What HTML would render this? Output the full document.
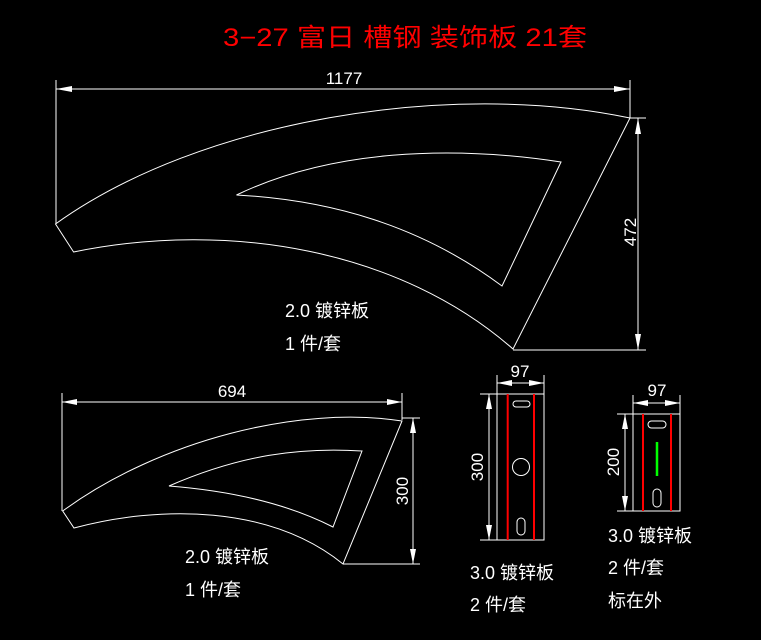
<!DOCTYPE html>
<html><head><meta charset="utf-8"><style>
html,body{margin:0;padding:0;background:#000;}
svg{display:block;}
text{font-family:"Liberation Sans","Noto Sans CJK SC",sans-serif;fill:#fff;}
</style></head><body>
<svg width="761" height="640" viewBox="0 0 761 640" xmlns="http://www.w3.org/2000/svg">
<rect width="761" height="640" fill="#000"/>
<g fill="none" stroke="#fff" stroke-width="1">
<!-- big shape -->
<path d="M55.5,224 C200,120 450,80 630,118 L513,349 C400,250 230,220 73.6,252 Z"/>
<path d="M236.5,195 C330,150 450,145 561,162 L502,286 C420,225 330,200 236.5,195 Z"/>
<!-- dims big -->
<line x1="56" y1="80" x2="56" y2="224"/>
<line x1="630" y1="80" x2="630" y2="118"/>
<line x1="56" y1="89" x2="630" y2="89"/>
<line x1="630" y1="118" x2="646" y2="118"/>
<line x1="513" y1="350" x2="646" y2="350"/>
<line x1="638" y1="118" x2="638" y2="350"/>
<!-- small shape -->
<path d="M62.7,511 C160,440 300,405 402,421 L343,564 C270,505 160,505 74,528 Z"/>
<path d="M169,486 C240,455 300,447 362,451 L333,527 C280,500 220,490 169,486 Z"/>
<line x1="62" y1="393" x2="62" y2="511"/>
<line x1="402" y1="393" x2="402" y2="420"/>
<line x1="62" y1="402" x2="402" y2="402"/>
<line x1="402" y1="418" x2="420" y2="418"/>
<line x1="343" y1="564" x2="420" y2="564"/>
<line x1="413" y1="418" x2="413" y2="564"/>
<!-- rect 1 -->
<rect x="497" y="394" width="47" height="146"/>
<rect x="513" y="401" width="17" height="6" rx="3"/>
<circle cx="521" cy="467" r="8.5"/>
<rect x="517" y="518" width="8" height="17" rx="4"/>
<line x1="497" y1="375" x2="497" y2="394"/>
<line x1="544" y1="375" x2="544" y2="394"/>
<line x1="497" y1="383" x2="544" y2="383"/>
<line x1="480" y1="394" x2="497" y2="394"/>
<line x1="480" y1="540" x2="497" y2="540"/>
<line x1="489" y1="394" x2="489" y2="540"/>
<!-- rect 2 -->
<rect x="633" y="414" width="47" height="97"/>
<rect x="648" y="421" width="18" height="7" rx="3.5"/>
<rect x="653" y="489" width="8" height="18" rx="4"/>
<line x1="633" y1="395" x2="633" y2="414"/>
<line x1="680" y1="395" x2="680" y2="414"/>
<line x1="633" y1="403" x2="680" y2="403"/>
<line x1="617" y1="414" x2="633" y2="414"/>
<line x1="617" y1="511" x2="633" y2="511"/>
<line x1="625" y1="414" x2="625" y2="511"/>
</g>
<g stroke="#f00" stroke-width="2">
<line x1="507.7" y1="394" x2="507.7" y2="540"/>
<line x1="534" y1="394" x2="534" y2="540"/>
<line x1="643" y1="414" x2="643" y2="511"/>
<line x1="671" y1="414" x2="671" y2="511"/>
</g>
<line x1="657" y1="442" x2="657" y2="476" stroke="#0f0" stroke-width="2.5"/>
<g fill="#fff">
<polygon points="56,89 72,86 72,92"/><polygon points="630,89 614,86 614,92"/>
<polygon points="638,118 635,134 641,134"/><polygon points="638,350 635,334 641,334"/>
<polygon points="62,402 77,399 77,405"/><polygon points="402,402 387,399 387,405"/>
<polygon points="413,418 410,433 416,433"/><polygon points="413,564 410,549 416,549"/>
<polygon points="497,383 512,380 512,386"/><polygon points="544,383 529,380 529,386"/>
<polygon points="489,394 486,409 492,409"/><polygon points="489,540 486,525 492,525"/>
<polygon points="633,403 648,400 648,406"/><polygon points="680,403 665,400 665,406"/>
<polygon points="625,414 622,429 628,429"/><polygon points="625,511 622,496 628,496"/>
</g>
<text x="223" y="46" font-size="25" style="fill:#f00" textLength="364" lengthAdjust="spacingAndGlyphs">3−27 富日 槽钢 装饰板 21套</text>
<text x="344" y="84" font-size="17" text-anchor="middle">1177</text>
<text transform="translate(636,232) rotate(-90)" font-size="17" text-anchor="middle">472</text>
<text x="285" y="317" font-size="18">2.0 镀锌板</text>
<text x="285" y="350" font-size="18">1 件/套</text>
<text x="232" y="397" font-size="17" text-anchor="middle">694</text>
<text transform="translate(408,491) rotate(-90)" font-size="17" text-anchor="middle">300</text>
<text x="185" y="563" font-size="18">2.0 镀锌板</text>
<text x="185" y="596" font-size="18">1 件/套</text>
<text x="520" y="377" font-size="17" text-anchor="middle">97</text>
<text transform="translate(483,467) rotate(-90)" font-size="17" text-anchor="middle">300</text>
<text x="657" y="396" font-size="17" text-anchor="middle">97</text>
<text transform="translate(619,462) rotate(-90)" font-size="17" text-anchor="middle">200</text>
<text x="470" y="579" font-size="18">3.0 镀锌板</text>
<text x="470" y="611" font-size="18">2 件/套</text>
<text x="608" y="542" font-size="18">3.0 镀锌板</text>
<text x="608" y="574" font-size="18">2 件/套</text>
<text x="608" y="607" font-size="18">标在外</text>
</svg>
</body></html>
